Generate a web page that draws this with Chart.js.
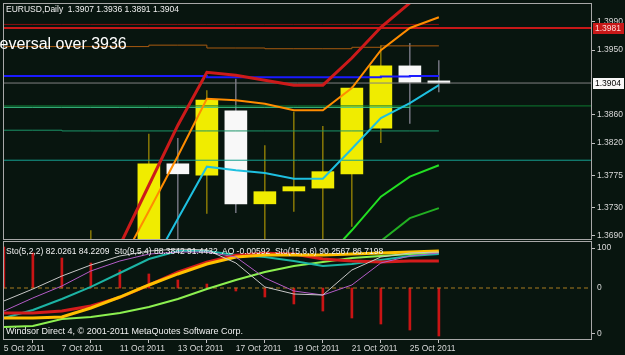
<!DOCTYPE html>
<html>
<head>
<meta charset="utf-8">
<script src="https://cdn.jsdelivr.net/npm/chart.js@4.4.1/dist/chart.umd.min.js"></script>
<style>
  body { margin:0; width:625px; height:355px; background:#08150f; position:relative; overflow:hidden; font-family:"Liberation Sans", Arial, sans-serif; }
  canvas { position:absolute; left:0; }
  #main { top:0; }
  #sub { top:241px; }
  .lbl { position:absolute; color:#f0f0f0; font-size:8.5px; line-height:10px; white-space:pre; }
  #rev { font-size:16px; line-height:16px; color:#ffffff; left:-12px; top:36px; }
  #copy { font-size:9px; }
</style>
</head>
<body>
<canvas id="main" width="625" height="241"></canvas>
<canvas id="sub" width="625" height="114"></canvas>
<div class="lbl" style="left:6px;top:4px">EURUSD,Daily  1.3907 1.3936 1.3891 1.3904</div>
<div class="lbl" id="rev">Reversal over 3936</div>
<div class="lbl" style="left:6px;top:246px">Sto(5,2,2) 82.0261 84.2209  Sto(9,5,4) 88.3842 91.4432  AO -0.00592  Sto(15,6,6) 90.2567 86.7198</div>
<div class="lbl" id="copy" style="left:6px;top:326px">Windsor Direct 4, © 2001-2011 MetaQuotes Software Corp.</div>
<script>
Chart.defaults.font.family = '"Liberation Sans", Arial, sans-serif'
Chart.defaults.font.size = 8.5
Chart.defaults.color = '#d8d8d8'

// daily bars
const dates  = ['5 Oct 2011','6 Oct 2011','7 Oct 2011','10 Oct 2011','11 Oct 2011','12 Oct 2011','13 Oct 2011','14 Oct 2011','17 Oct 2011','18 Oct 2011','19 Oct 2011','20 Oct 2011','21 Oct 2011','24 Oct 2011','25 Oct 2011','26 Oct 2011']
const opens  = [1.3350,1.3380,1.3420,1.3385,1.3620,1.3645,1.3791,1.3775,1.3865,1.3735,1.3753,1.3757,1.3777,1.3841,1.3928,1.3907]
const highs  = [1.3395,1.3460,1.3520,1.3698,1.3675,1.3833,1.3827,1.3894,1.3910,1.3817,1.3864,1.3844,1.3899,1.3957,1.3960,1.3936]
const lows   = [1.3260,1.3310,1.3360,1.3380,1.3590,1.3630,1.3680,1.3721,1.3722,1.3660,1.3724,1.3655,1.3703,1.3820,1.3847,1.3891]
const closes = [1.3380,1.3420,1.3385,1.3620,1.3645,1.3791,1.3777,1.3880,1.3735,1.3752,1.3759,1.3780,1.3897,1.3928,1.3905,1.3904]

const priceTicks = [1.3990,1.3950,1.3860,1.3820,1.3775,1.3730,1.3690]
const dateTicks  = [0,2,4,6,8,10,12,14]
const priceMarks = [1.3981,1.3904]

// moving averages / bands
const maRed     = [null,null,null,1.3604,1.3677,1.3761,1.3845,1.3919,1.3915,1.3908,1.3901,1.3901,1.3939,1.3982,1.4016,1.4052]
const maOrange  = [null,null,null,null,1.3649,1.3725,1.3802,1.3882,1.3880,1.3875,1.3866,1.3866,1.3897,1.3950,1.3981,1.3996]
const maCyan    = [null,null,null,null,null,1.3641,1.3714,1.3787,1.3782,1.3778,1.3770,1.3770,1.3812,1.3855,1.3876,1.3901]
const bandLime  = [null,null,null,null,null,null,null,null,null,null,null,1.3654,1.3698,1.3745,1.3773,1.3789]
const bandGreen = [null,null,null,null,null,null,null,null,null,null,null,null,1.3649,1.3683,1.3715,1.3729]

// levels
const lvlRed   = 1.3981
const lvlBid   = 1.3904
const lvlGreen = 1.3872
const lvlTeal  = 1.3796
const lvlDarkRed = [1.3986,1.3986,1.3986,1.3986,1.3986,1.3986,1.3986,1.3986,1.3986,1.3986,1.3986,1.3986,1.3986,1.3986,1.3986,1.3986]
const lvlBrown = [1.3955,1.3955,1.3955,1.3955,1.3955,1.3957,1.3957,1.3953,1.3953,1.3952,1.3952,1.3952,1.3954,1.3956,1.3956,1.3956]
const lvlBlue  = [1.3914,1.3914,1.3914,1.3914,1.3914,1.3914,1.3914,1.3912,1.3912,1.3912,1.3912,1.3912,1.3912,1.3913,1.3914,1.3914]
const lvlMint  = [1.3870,1.3870,1.3870,1.3870,1.3870,1.3870,1.3870,1.3870,1.3870,1.3870,1.3870,1.3870,1.3870,1.3870,1.3870]
const lvlSea   = [1.3838,1.3838,1.3837,1.3837,1.3837,1.3837,1.3837,1.3837,1.3837,1.3837,1.3837,1.3837,1.3837,1.3837,1.3837,1.3837]

// sub window
const ao = [0.00506,0.00432,0.00370,0.00308,0.00222,0.00173,0.00099,0.00049,-0.00037,-0.00111,-0.00197,-0.00284,-0.00370,-0.00444,-0.00518,-0.00592]
const stoWhite  = [38.4,52.3,67.4,80.2,90.7,96.5,98.8,97.7,82.6,54.7,46.5,45.3,74.4,89.5,94.2,95.3]
const stoViolet = [26.7,41.9,55.8,73.3,84.9,93.0,95.3,95.3,89.5,65.1,50.0,45.3,57.0,82.6,90.7,94.2]
const stoTeal   = [18.6,27.9,40.7,54.7,70.9,87.2,96.5,96.5,91.9,89.5,84.9,79.1,81.4,86.0,90.7,93.0]
const stoRed    = [24.4,24.4,26.7,32.6,42.5,56.8,71.9,83.6,91.7,94.0,92.9,87.2,84.9,83.7,84.9,84.9]
const stoOrange = [18.6,18.6,19.8,30.2,43.0,57.0,69.8,81.4,89.5,91.9,91.9,91.9,93.0,94.2,95.3,96.5]
const stoGreen  = [8.1,9.3,17.4,19.8,24.4,31.4,40.7,52.3,62.8,72.1,79.1,83.7,88.4,90.7,93.0,94.2]

const X_MIN = -0.03
const X_MAX = X_MIN + 589/29

const xy = arr => arr.map((v,i)=>({x:i, y:v}))
const flat = v => [{x:X_MIN, y:v}, {x:X_MAX, y:v}]
const line = (data, color, width, extra) => Object.assign({type:'line', data:data, borderColor:color, borderWidth:width, pointRadius:0, tension:0, order:0}, extra||{})
// fixed axis boxes, no label overhang padding
const fitY = s => { s.width = 33; s.paddingTop = 0; s.paddingBottom = 0 }
const fitX = s => { s.height = 15; s.paddingLeft = 0; s.paddingRight = 0 }

const frame = {
  id:'frame',
  afterDatasetsDraw(chart){
    const a = chart.chartArea, c = chart.ctx
    c.save()
    c.strokeStyle = '#a8a8a8'
    c.lineWidth = 1
    c.strokeRect(a.left+0.5, a.top+0.5, a.right-a.left-1, a.bottom-a.top-1)
    c.restore()
  }
}

// price boxes on the right axis
const boxes = {
  id:'boxes',
  afterDraw(chart){
    const y = chart.scales.y, c = chart.ctx
    const styles = [['#c81818','#ffd8d8'],['#f8f8f8','#000000']]
    c.save()
    c.font = '8.5px "Liberation Sans", Arial, sans-serif'
    c.textBaseline = 'middle'
    priceMarks.forEach((v,k)=>{
      const py = Math.round(y.getPixelForValue(v))
      c.fillStyle = styles[k][0]
      c.fillRect(593, py-5, 31, 11)
      c.fillStyle = styles[k][1]
      c.fillText(v.toFixed(4), 595, py+1)
    })
    c.restore()
  }
}

// zero label of the AO histogram
const aoLabel = {
  id:'aoLabel',
  afterDraw(chart){
    const y2 = chart.scales.y2, c = chart.ctx
    c.save()
    c.font = '8.5px "Liberation Sans", Arial, sans-serif'
    c.textBaseline = 'middle'
    c.fillStyle = '#d8d8d8'
    c.fillText('0', 597, y2.getPixelForValue(0))
    c.restore()
  }
}

const bodies = dates.map((d,i)=>({x:i, y:[opens[i], closes[i]]}))
const wicks  = dates.map((d,i)=>({x:i, y:[lows[i], highs[i]]}))
const bodyColors = dates.map((d,i)=> closes[i] >= opens[i] ? '#f0ec00' : '#f8f8f8')
const wickColors = dates.map((d,i)=> closes[i] >= opens[i] ? '#c8aa00' : '#a8a4b8')

new Chart(document.getElementById('main'), {
  type:'bar',
  data:{ datasets:[
    line(xy(maRed), '#cc1a1a', 3),
    line(xy(maOrange), '#ff8c00', 2),
    line(xy(maCyan), '#1ec0e0', 2),
    line(xy(bandLime), '#22e022', 2),
    line(xy(bandGreen), '#22b022', 2),
    line(flat(lvlRed), '#c81818', 2),
    line(xy(lvlDarkRed), '#8a1010', 1, {stepped:true}),
    line(xy(lvlBrown), '#a85a10', 1, {stepped:true}),
    line(xy(lvlBlue), '#1a1aff', 2, {stepped:true}),
    line(flat(lvlBid), '#808080', 1),
    line(xy(lvlMint), '#3cc88c', 1, {stepped:true}),
    line(flat(lvlGreen), '#0c7a30', 1),
    line(xy(lvlSea), '#1c9468', 1, {stepped:true}),
    line(flat(lvlTeal), '#16a090', 1),
    {type:'bar', data:bodies, backgroundColor:bodyColors, barThickness:22, grouped:false, borderWidth:0, order:5},
    {type:'bar', data:wicks, backgroundColor:wickColors, barThickness:1, grouped:false, borderWidth:0, inflateAmount:0, order:6}
  ]},
  options:{
    responsive:false, animation:false, devicePixelRatio:1,
    layout:{ padding:{left:3, top:3, right:0, bottom:1} },
    plugins:{ legend:{display:false}, tooltip:{enabled:false} },
    scales:{
      x:{ type:'linear', min:X_MIN, max:X_MAX, offset:false, display:false },
      y:{
        position:'right', min:1.36844, max:1.401597,
        afterBuildTicks: s => { s.ticks = priceTicks.map(v=>({value:v})) },
        afterFit: fitY,
        ticks:{ padding:2, autoSkip:false, callback: v => v.toFixed(4) },
        grid:{ drawOnChartArea:false, tickLength:3, color:'#c0c0c0' },
        border:{ display:false }
      }
    }
  },
  plugins:[frame, boxes]
})

new Chart(document.getElementById('sub'), {
  type:'bar',
  data:{ datasets:[
    line(xy(stoWhite), '#c8c8c8', 1),
    line(xy(stoViolet), '#b45cc8', 1),
    line(xy(stoOrange), '#ffc000', 3),
    line(xy(stoRed), '#d41c1c', 3),
    line(xy(stoTeal), '#1cb4a4', 2),
    line(xy(stoGreen), '#8cf050', 2),
    line(flat(0), '#a87c20', 1, {yAxisID:'y2', borderDash:[4,3], order:1}),
    {type:'bar', data:xy(ao), yAxisID:'y2', backgroundColor:'#c81414', barThickness:2, grouped:false, borderWidth:0, order:5}
  ]},
  options:{
    responsive:false, animation:false, devicePixelRatio:1,
    layout:{ padding:{left:3, top:0, right:0, bottom:0} },
    plugins:{ legend:{display:false}, tooltip:{enabled:false} },
    scales:{
      x:{
        type:'linear', min:X_MIN, max:X_MAX, offset:false,
        afterBuildTicks: s => { s.ticks = dateTicks.map(v=>({value:v})) },
        afterFit: fitX,
        ticks:{ align:'start', padding:1, autoSkip:false, maxRotation:0, callback: v => dates[v] },
        grid:{ drawOnChartArea:false, tickLength:3, color:'#c0c0c0' },
        border:{ display:false }
      },
      y:{
        position:'right', min:-6.98, max:108.14,
        afterBuildTicks: s => { s.ticks = [100, 0].map(v=>({value:v})) },
        afterFit: fitY,
        ticks:{ padding:2, autoSkip:false },
        grid:{ drawOnChartArea:false, tickLength:3, color:'#c0c0c0' },
        border:{ display:false }
      },
      y2:{ type:'linear', position:'right', display:false, min:-0.006413, max:0.005797 }
    }
  },
  plugins:[frame, aoLabel]
})
</script>
</body>
</html>
